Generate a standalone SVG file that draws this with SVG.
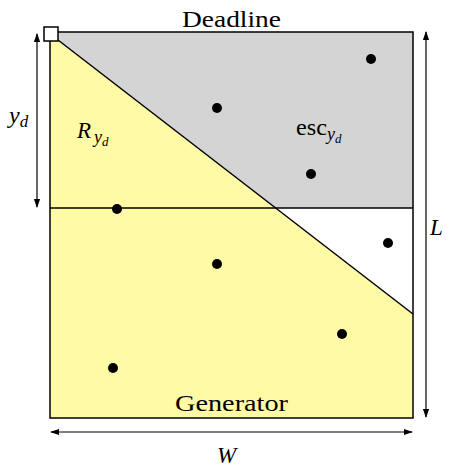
<svg xmlns="http://www.w3.org/2000/svg" width="457" height="475" viewBox="0 0 457 475">
<defs>
<marker id="ah" viewBox="0 0 10 10" refX="9" refY="5" markerWidth="9" markerHeight="9" markerUnits="userSpaceOnUse" orient="auto-start-reverse">
<path d="M0,1.5 L10,5 L0,8.5 Z" fill="#000"/>
</marker>
<style>
.t{font-family:'Liberation Serif','DejaVu Serif',serif;fill:#000}
.m{font-family:'Liberation Serif','DejaVu Serif',serif;font-style:italic;fill:#000}
.dot{fill:#000}
.ln{stroke:#000;stroke-width:1.5;fill:none}
.arr{stroke:#000;stroke-width:1.2;fill:none;marker-start:url(#ah);marker-end:url(#ah)}
</style>
</defs>
<rect width="457" height="475" fill="#fff"/>
<g id="regions">
<polygon points="50,32 413,32 413,418 50,418" fill="#fffaa5"/>
<polygon points="50,32 413,32 413,208 275,208 58,40 50,40" fill="#d4d4d4"/>
<polygon points="275,208 413,208 413,314" fill="#fff"/>
</g>
<g id="connectors">
<rect x="50" y="32" width="363" height="386" class="ln"/>
<line x1="50" y1="208" x2="413" y2="208" class="ln"/>
<line x1="58" y1="40" x2="413" y2="314" class="ln"/>
<line x1="37" y1="34" x2="37" y2="207" class="arr"/>
<line x1="426" y1="32" x2="426" y2="417" class="arr"/>
<line x1="51" y1="432" x2="412" y2="432" class="arr"/>
</g>
<g id="corner"><rect x="44" y="27" width="14" height="14" fill="#fff" stroke="#000" stroke-width="1.5"/></g>
<g id="points">
<circle class="dot" cx="371" cy="59" r="5"/>
<circle class="dot" cx="217" cy="108" r="5"/>
<circle class="dot" cx="311" cy="174" r="5"/>
<circle class="dot" cx="117" cy="209" r="5"/>
<circle class="dot" cx="388" cy="243" r="5"/>
<circle class="dot" cx="217" cy="264" r="5"/>
<circle class="dot" cx="342" cy="334" r="5"/>
<circle class="dot" cx="113" cy="368" r="5"/>
</g>
<g id="labels">
<text class="t" x="182" y="27" font-size="23" textLength="99" lengthAdjust="spacingAndGlyphs">Deadline</text>
<text class="t" x="175" y="411" font-size="23" textLength="113" lengthAdjust="spacingAndGlyphs">Generator</text>
<text class="t" x="296" y="135" font-size="23" textLength="31" lengthAdjust="spacingAndGlyphs">esc</text>
<text class="m" x="327" y="140" font-size="18">y<tspan font-size="13" dy="3">d</tspan></text>
<text class="m" x="77" y="138" font-size="23">R</text>
<text class="m" x="94" y="143" font-size="18">y<tspan font-size="13" dy="3">d</tspan></text>
<text class="m" x="9" y="123" font-size="24">y<tspan font-size="17" dy="4">d</tspan></text>
<text class="m" x="430" y="235" font-size="23">L</text>
<text class="m" x="217" y="463" font-size="23">W</text>
</g>
</svg>
